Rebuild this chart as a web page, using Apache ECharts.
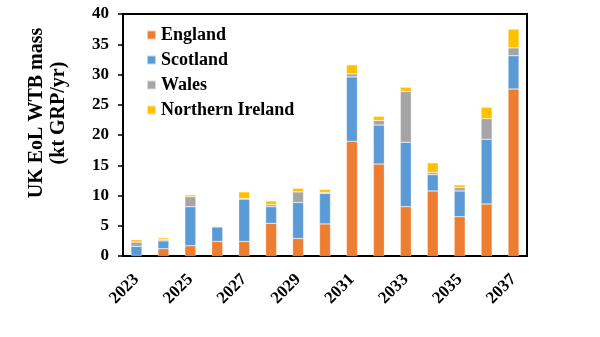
<!DOCTYPE html>
<html><head><meta charset="utf-8">
<script src="https://cdn.jsdelivr.net/npm/echarts@6/dist/echarts.min.js"></script>
<style>html,body{margin:0;padding:0;background:#fff}#c{width:600px;height:337px}</style>
</head><body><div id="c"></div>
<script>
const years = ['2023','2024','2025','2026','2027','2028','2029','2030','2031','2032','2033','2034','2035','2036','2037'];
const england  = [0.1, 1.2, 1.7, 2.4, 2.4, 5.4, 2.9, 5.3, 18.95, 15.2, 8.15, 10.75, 6.5, 8.6, 27.6];
const scotland = [1.5, 1.3, 6.45, 2.4, 7.0, 2.75, 5.95, 5.05, 10.65, 6.45, 10.65, 2.7, 4.25, 10.7, 5.5];
const wales    = [0.7, 0.2, 1.65, 0.1, 0.1, 0.35, 1.75, 0.15, 0.5, 0.75, 8.4, 0.35, 0.55, 3.4, 1.3];
const nireland = [0.4, 0.3, 0.3, 0.1, 1.1, 0.6, 0.6, 0.5, 1.5, 0.7, 0.7, 1.6, 0.45, 1.9, 3.1];
const yTicks = [0, 5, 10, 15, 20, 25, 30, 35, 40];
const seriesNames = ['England', 'Scotland', 'Wales', 'Northern Ireland'];
const colors = ['#ED7D31', '#5B9BD5', '#A5A5A5', '#FFC000'];
const yTitle = 'UK EoL WTB mass\n(kt GRP/yr)';

const font = 'Liberation Serif';
const chart = echarts.init(document.getElementById('c'), null, {renderer: 'canvas'});
const data = [england, scotland, wales, nireland];
chart.setOption({
  animation: false,
  grid: {left: 123, right: 73, top: 14, bottom: 81, show: true, borderColor: '#000', borderWidth: 2, backgroundColor: 'transparent'},
  legend: {
    data: seriesNames, orient: 'vertical', left: 141, top: 21,
    itemWidth: 9, itemHeight: 9, itemGap: 7, icon: 'rect',
    textStyle: {fontFamily: font, fontWeight: 'bold', fontSize: 18, lineHeight: 18, color: '#000'}
  },
  graphic: [{
    type: 'text', x: 48, y: 113, rotation: Math.PI / 2,
    style: {text: yTitle, fontFamily: font, fontWeight: 'bold', fontSize: 20, lineHeight: 22,
      fill: '#000', align: 'center', verticalAlign: 'middle'}
  }],
  xAxis: {
    type: 'category', data: years,
    axisLine: {lineStyle: {color: '#000', width: 2}},
    axisTick: {show: false},
    axisLabel: {interval: 1, rotate: 45, margin: 21, fontFamily: font, fontWeight: 'bold', fontSize: 17, color: '#000'}
  },
  yAxis: {
    type: 'value', min: yTicks[0], max: yTicks[yTicks.length - 1], interval: 5,
    axisLine: {show: true, lineStyle: {color: '#000', width: 2}},
    axisTick: {show: true, length: 5, lineStyle: {color: '#000', width: 1.5}},
    splitLine: {show: false},
    axisLabel: {margin: 14, fontFamily: font, fontWeight: 'bold', fontSize: 17, color: '#000'}
  },
  series: seriesNames.map((n, i) => ({
    name: n, type: 'bar', stack: 'uk', data: data[i], barWidth: 11,
    itemStyle: {color: colors[i], borderColor: 'rgba(255,255,255,0.6)', borderWidth: 0.5}
  }))
});
</script></body></html>
